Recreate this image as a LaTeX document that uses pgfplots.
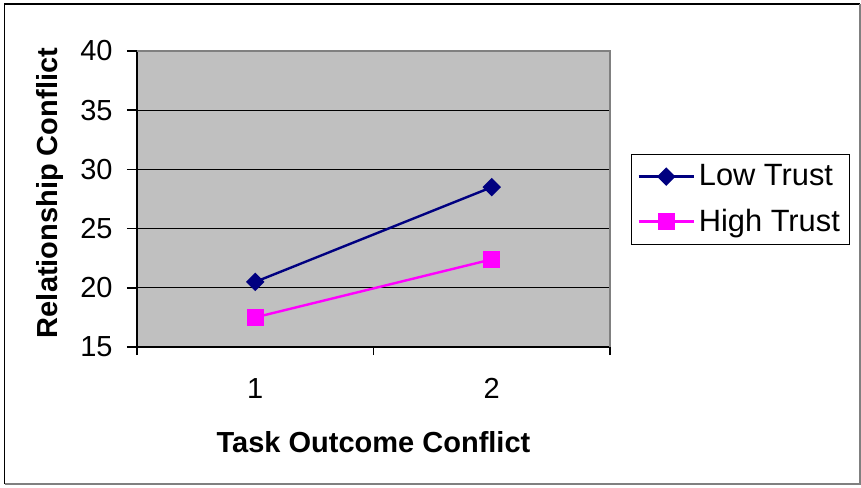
\documentclass[border=0pt]{standalone}
\usepackage{fontspec}
\setmainfont{Liberation Sans}
\usepackage{pgfplots}
\pgfplotsset{compat=1.18}
\definecolor{plotbg}{HTML}{C0C0C0}
\definecolor{lowtrust}{HTML}{000080}
\definecolor{hightrust}{HTML}{FF00FF}
\definecolor{framegray}{HTML}{808080}
\begin{document}
\begin{tikzpicture}
\path (0,0) rectangle (430.5pt,243.5pt);
\draw[black, line width=0.75pt] (2.25pt,1.5pt) -- (2.25pt,241.5pt) -- (430pt,241.5pt);
\draw[framegray, line width=0.75pt] (430pt,241.5pt) -- (430pt,1.5pt) -- (2.25pt,1.5pt);
\begin{axis}[
  at={(68.5pt,70pt)}, anchor=south west,
  scale only axis, width=236.5pt, height=148pt,
  xmin=0.5, xmax=2.5, ymin=15, ymax=40,
  axis x line*=bottom, axis y line*=left,
  axis line style={black, line width=0.75pt},
  axis background/.style={fill=plotbg},
  xtick={1,2}, xticklabels={1,2},
  minor xtick={0.5,1.5,2.5},
  ytick={15,20,25,30,35,40},
  tick align=outside,
  major x tick style={draw=none},
  minor tick length=4pt,
  major tick length=5pt,
  tick style={black, line width=0.75pt},
  ymajorgrids, grid style={black, line width=0.5pt},
  /pgf/number format/assume math mode=true,
  ticklabel style={font=\fontsize{14.5}{17}\selectfont},
  yticklabel style={anchor=east, inner sep=0pt, xshift=-7pt},
  xticklabel style={anchor=north, inner sep=0pt, yshift=-10.5pt},
  xlabel={Task Outcome Conflict},
  ylabel={Relationship Conflict},
  every axis x label/.style={at={(rel axis cs:0.5,-0.321)}, anchor=center, font=\fontsize{14.5}{17}\selectfont\bfseries},
  every axis y label/.style={at={(rel axis cs:-0.184,0.52)}, rotate=90, anchor=center, font=\fontsize{14.5}{17}\selectfont\bfseries},
  legend style={at={(rel axis cs:1.0444,0.652)}, anchor=north west,
    draw=black, line width=0.5pt, fill=white,
    font=\fontsize{15.4}{18}\selectfont, inner xsep=3pt, inner ysep=3pt,
    row sep=6pt},
  legend cell align=left,
  legend image code/.code={\draw[mark repeat=2,mark phase=2,#1] plot coordinates {(0pt,0pt) (13.75pt,0pt) (27.5pt,0pt)};},
  after end axis/.code={\draw[framegray, line width=0.75pt] (rel axis cs:0,1) -- (rel axis cs:1,1) -- (rel axis cs:1,0);},
  clip=false,
]
\addplot[lowtrust, line width=1.2pt, mark=square*, mark size=2.65pt, mark options={rotate=45, fill=lowtrust, draw=lowtrust}]
  coordinates {(1,20.5) (2,28.5)};
\addlegendentry{Low Trust}
\addplot[hightrust, line width=1.2pt, mark=square*, mark size=3.75pt, mark options={fill=hightrust, draw=hightrust}]
  coordinates {(1,17.5) (2,22.4)};
\addlegendentry{High Trust}
\end{axis}
\end{tikzpicture}
\end{document}
